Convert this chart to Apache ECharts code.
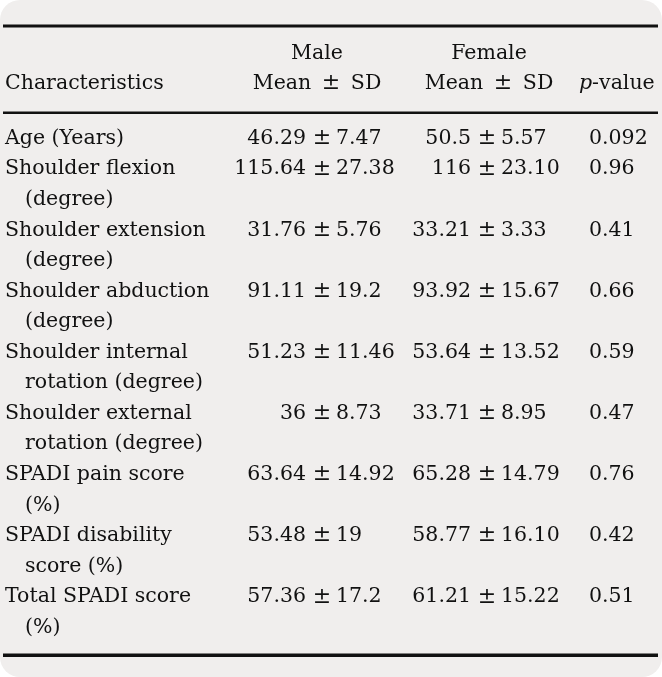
<!DOCTYPE html>
<html>
<head>
<meta charset="utf-8">
<script src="https://cdn.jsdelivr.net/npm/echarts@6/dist/echarts.min.js"></script>
<style>
html,body{margin:0;padding:0;background:#ffffff;}
#chart{width:662px;height:677px;}
</style>
</head>
<body>
<div id="chart"></div>
<script>
// ---------- data ----------
const characteristics = [
  'Age (Years)',
  'Shoulder flexion\n(degree)',
  'Shoulder extension\n(degree)',
  'Shoulder abduction\n(degree)',
  'Shoulder internal\nrotation (degree)',
  'Shoulder external\nrotation (degree)',
  'SPADI pain score\n(%)',
  'SPADI disability\nscore (%)',
  'Total SPADI score\n(%)'
];
const maleMean   = ['46.29', '115.64', '31.76', '91.11', '51.23', '36', '63.64', '53.48', '57.36'];
const maleSD     = ['7.47', '27.38', '5.76', '19.2', '11.46', '8.73', '14.92', '19', '17.2'];
const femaleMean = ['50.5', '116', '33.21', '93.92', '53.64', '33.71', '65.28', '58.77', '61.21'];
const femaleSD   = ['5.57', '23.10', '3.33', '15.67', '13.52', '8.95', '14.79', '16.10', '15.22'];
const pValues    = ['0.092', '0.96', '0.41', '0.66', '0.59', '0.47', '0.76', '0.42', '0.51'];
const headerGroups = ['Male', 'Female'];
const headerSub = ['Characteristics', 'Mean ± SD', 'Mean ± SD', 'p-value'];

// ---------- layout (pixels / line units) ----------
const W = 662, H = 677;
const FAM = '"DejaVu Serif", serif';
const FONT = '20.5px ' + FAM;
const FONT_I = 'italic 20.5px ' + FAM;
const FONT_PM = '22px ' + FAM;
const SX = 1.0;
const COLOR = '#111111';
const labelX = 5, indentX = 25;
const malePm = 322, femalePm = 487;
const meanGap = 16, sdGap = 14;
const pX = 589, pHeadX = 579;
const maleHeadX = 317, femaleHeadX = 489;
const headLine1 = -2.78, headLine2 = -1.80;
const LINE_PX = 30.55, FIRST_LINE_PX = 138.6;
const yMin = -FIRST_LINE_PX / LINE_PX;
const yMax = yMin + H / LINE_PX;

// ---------- build cells ----------
const cells = [];
function add(x, line, text, align, rich) {
  cells.push({ value: [x, line], text: text, align: align, rich: rich });
}
function pmRich(s) { return s.replace(' ± ', ' \u2009{pm|±}\u2009 '); }
add(maleHeadX, headLine1, headerGroups[0], 'center');
add(femaleHeadX, headLine1, headerGroups[1], 'center');
add(labelX, headLine2, headerSub[0], 'left');
add(maleHeadX, headLine2, pmRich(headerSub[1]), 'center', true);
add(femaleHeadX, headLine2, pmRich(headerSub[2]), 'center', true);
add(pHeadX, headLine2, '{i|p}' + headerSub[3].slice(1), 'left', true);

let line = 0;
characteristics.forEach(function (lab, i) {
  const parts = lab.split('\n');
  parts.forEach(function (t, k) {
    add(k === 0 ? labelX : indentX, line + k, t, 'left');
  });
  add(malePm - meanGap, line, maleMean[i], 'right');
  add(malePm, line, '{pm|±}', 'center', true);
  add(malePm + sdGap, line, maleSD[i], 'left');
  add(femalePm - meanGap, line, femaleMean[i], 'right');
  add(femalePm, line, '{pm|±}', 'center', true);
  add(femalePm + sdGap, line, femaleSD[i], 'left');
  add(pX, line, pValues[i], 'left');
  line += parts.length;
});

const chart = echarts.init(document.getElementById('chart'), null, { renderer: 'canvas' });
chart.setOption({
  animation: false,
  backgroundColor: 'transparent',
  graphic: [
    { type: 'rect', z: -10, shape: { x: 0, y: 0, width: W, height: H, r: 20 }, style: { fill: '#f0eeed' } },
    { type: 'rect', z: 10, shape: { x: 3, y: 24.5, width: 655, height: 3 }, style: { fill: COLOR } },
    { type: 'rect', z: 10, shape: { x: 3, y: 111.5, width: 655, height: 2.5 }, style: { fill: COLOR } },
    { type: 'rect', z: 10, shape: { x: 3, y: 653.5, width: 655, height: 3.5 }, style: { fill: COLOR } }
  ],
  grid: { left: 0, right: 0, top: 0, bottom: 0 },
  xAxis: { type: 'value', min: 0, max: W, show: false },
  yAxis: { type: 'value', min: yMin, max: yMax, inverse: true, show: false },
  series: [{
    type: 'custom',
    coordinateSystem: 'cartesian2d',
    data: cells.map(function (c) { return c.value; }),
    renderItem: function (params, api) {
      const c = cells[params.dataIndex];
      const p = api.coord([api.value(0), api.value(1)]);
      const style = {
        text: c.text,
        font: FONT,
        fill: COLOR,
        align: c.align,
        verticalAlign: 'middle'
      };
      if (c.rich) {
        style.rich = {
          i: { font: FONT_I, fill: COLOR },
          pm: { font: FONT_PM, fill: COLOR }
        };
      }
      return { type: 'text', x: p[0], y: p[1], scaleX: SX, scaleY: 1, style: style };
    }
  }]
});
</script>
</body>
</html>
